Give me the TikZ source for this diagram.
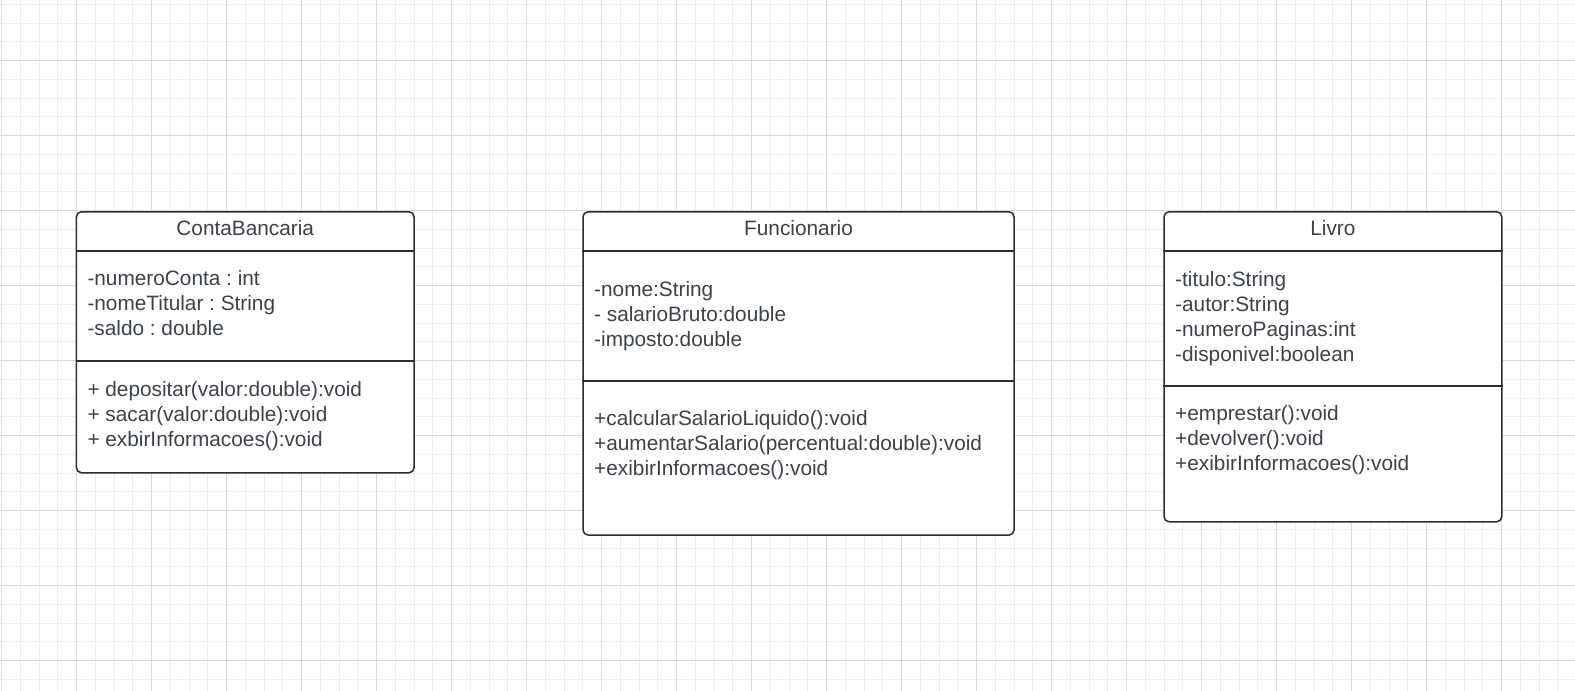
\documentclass[tikz,border=0pt]{standalone}
\usepackage{fontspec}
\setmainfont{Liberation Sans}
\usetikzlibrary{calc}
\frenchspacing
\definecolor{gridminor}{HTML}{EDEDED}
\definecolor{gridmajor}{HTML}{DADADA}
\definecolor{boxline}{HTML}{2A2E35}
\definecolor{txt}{HTML}{3C424B}
\tikzset{
  umlbox/.style={draw=boxline, line width=1.5pt, rounded corners=5pt, fill=white, anchor=north west, inner sep=0pt},
  divider/.style={draw=boxline, line width=1.5pt},
  umltitle/.style={text=txt, font=\fontsize{20.8}{25}\selectfont, anchor=base, inner sep=0pt},
  member/.style={text=txt, font=\fontsize{20.8}{25}\selectfont, anchor=base west, inner sep=0pt},
}
\begin{document}
\begin{tikzpicture}[x=1pt,y=-1pt]
\useasboundingbox (0,0) rectangle (1575,691);
\fill[white] (0,0) rectangle (1575,691);
% grid
\foreach \i in {0,...,84} {
  \draw[gridminor, line width=1pt] ({1.5+18.75*\i},0) -- ({1.5+18.75*\i},691);
}
\foreach \i in {0,...,37} {
  \draw[gridminor, line width=1pt] (0,{4.3+18.75*\i}) -- (1575,{4.3+18.75*\i});
}
\foreach \i in {0,...,21} {
  \draw[gridmajor, line width=1pt] ({1.5+75*\i},0) -- ({1.5+75*\i},691);
}
\foreach \i in {0,...,9} {
  \draw[gridmajor, line width=1pt] (0,{60.5+75*\i}) -- (1575,{60.5+75*\i});
}

% ContaBancaria
\node[umlbox, minimum width=337.6pt, minimum height=261pt] (cb) at (75.7,211) {};
\draw[divider] ($(cb.north west)+(0,40)$) -- ($(cb.north east)+(0,40)$);
\draw[divider] ($(cb.north west)+(0,150)$) -- ($(cb.north east)+(0,150)$);
\node[umltitle] (cbt) at ($(cb.north)+(0,24.5)$) {ContaBancaria};
\foreach [count=\k] \t in {{-numeroConta : int},{-nomeTitular : String},{-saldo : double}}
  \node[member] (cba\k) at ($(cb.north west)+(11.6,{74.7+25*(\k-1)})$) {\t};
\foreach [count=\k] \t in {{+ depositar(valor:double):void},{+ sacar(valor:double):void},{+ exbirInformacoes():void}}
  \node[member] (cbm\k) at ($(cb.north west)+(11.6,{185+25*(\k-1)})$) {\t};

% Funcionario
\node[umlbox, minimum width=431pt, minimum height=323.3pt] (fu) at (582.3,211) {};
\draw[divider] ($(fu.north west)+(0,40)$) -- ($(fu.north east)+(0,40)$);
\draw[divider] ($(fu.north west)+(0,170)$) -- ($(fu.north east)+(0,170)$);
\node[umltitle] (fut) at ($(fu.north)+(0,24.5)$) {Funcionario};
\foreach [count=\k] \t in {{-nome:String},{- salarioBruto:double},{-imposto:double}}
  \node[member] (fua\k) at ($(fu.north west)+(11.7,{85.7+25*(\k-1)})$) {\t};
\foreach [count=\k] \t in {{+calcularSalarioLiquido():void},{+aumentarSalario(percentual:double):void},{+exibirInformacoes():void}}
  \node[member] (fum\k) at ($(fu.north west)+(11.7,{214.7+25*(\k-1)})$) {\t};

% Livro
\node[umlbox, minimum width=337.7pt, minimum height=310pt] (li) at (1163.3,211) {};
\draw[divider] ($(li.north west)+(0,40)$) -- ($(li.north east)+(0,40)$);
\draw[divider] ($(li.north west)+(0,175)$) -- ($(li.north east)+(0,175)$);
\node[umltitle] (lit) at ($(li.north)+(0,24.5)$) {Livro};
\foreach [count=\k] \t in {{-titulo:String},{-autor:String},{-numeroPaginas:int},{-disponivel:boolean}}
  \node[member] (lia\k) at ($(li.north west)+(11.7,{75.4+25*(\k-1)})$) {\t};
\foreach [count=\k] \t in {{+emprestar():void},{+devolver():void},{+exibirInformacoes():void}}
  \node[member] (lim\k) at ($(li.north west)+(11.7,{209.7+25*(\k-1)})$) {\t};
\end{tikzpicture}
\end{document}
